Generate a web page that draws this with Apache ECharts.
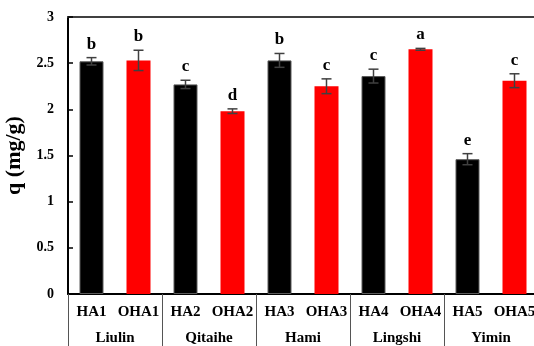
<!DOCTYPE html>
<html>
<head>
<meta charset="utf-8">
<script src="https://cdn.jsdelivr.net/npm/echarts@6/dist/echarts.min.js"></script>
<style>
  html, body { margin: 0; padding: 0; background: #fff; }
  #chart { width: 534px; height: 346px; }
</style>
</head>
<body>
<div id="chart"></div>
<script>
// Adsorption capacity of raw (HA) and oxidised (OHA) humic acids by coal origin
const samples = ['HA1', 'OHA1', 'HA2', 'OHA2', 'HA3', 'OHA3', 'HA4', 'OHA4', 'HA5', 'OHA5'];
const regions = ['Liulin', 'Qitaihe', 'Hami', 'Lingshi', 'Yimin'];
const capacity = [2.52, 2.53, 2.27, 1.98, 2.53, 2.25, 2.36, 2.65, 1.46, 2.31];
const errors = [0.04, 0.11, 0.045, 0.025, 0.075, 0.08, 0.075, 0.01, 0.06, 0.075];
const letters = ['b', 'b', 'c', 'd', 'b', 'c', 'c', 'a', 'e', 'c'];
const yTicks = { min: 0, max: 3, step: 0.5 };

const FONT = '"Liberation Serif", "Times New Roman", serif';
const chart = echarts.init(document.getElementById('chart'));

const barData = capacity.map((v, i) => ({
  value: v,
  itemStyle: i % 2 === 0
    ? { color: '#000000', borderColor: '#5a5a5a', borderWidth: 1 }
    : { color: '#ff0000' }
}));

const errData = capacity.map((v, i) => [i, v, errors[i]]);

chart.setOption({
  animation: false,
  grid: { left: 68, top: 17, width: 470, height: 277, outerBoundsMode: 'none' },
  xAxis: [
    {
      type: 'category',
      data: samples,
      position: 'bottom',
      axisLine: { lineStyle: { color: '#000', width: 2 } },
      axisTick: { show: false },
      axisLabel: { interval: 0, margin: 11, color: '#000', fontFamily: FONT, fontWeight: 'bold', fontSize: 15 }
    },
    {
      type: 'category',
      data: regions,
      position: 'bottom',
      axisLine: { show: false },
      axisTick: { show: true, interval: 0, length: 56, lineStyle: { color: '#555', width: 1 } },
      axisLabel: { interval: 0, margin: 37, color: '#000', fontFamily: FONT, fontWeight: 'bold', fontSize: 15 }
    },
    {
      type: 'category',
      data: samples,
      position: 'top',
      axisLine: { lineStyle: { color: '#404040', width: 2 } },
      axisTick: { show: false },
      axisLabel: { show: false }
    }
  ],
  yAxis: {
    type: 'value',
    min: yTicks.min,
    max: yTicks.max,
    interval: yTicks.step,
    name: 'q (mg/g)',
    nameLocation: 'middle',
    nameGap: 37,
    nameTextStyle: { color: '#000', fontFamily: FONT, fontWeight: 'bold', fontSize: 22 },
    axisLine: { show: true, lineStyle: { color: '#000', width: 2 } },
    axisTick: { show: true, inside: true, length: 5, lineStyle: { color: '#000', width: 1.5 } },
    axisLabel: { margin: 14, color: '#000', fontFamily: FONT, fontWeight: 'bold', fontSize: 14 },
    splitLine: { show: false }
  },
  series: [
    {
      type: 'bar',
      xAxisIndex: 0,
      data: barData,
      barWidth: 24
    },
    {
      type: 'custom',
      xAxisIndex: 0,
      data: errData,
      z: 10,
      renderItem: function (params, api) {
        const x = api.value(0), v = api.value(1), e = api.value(2);
        const top = api.coord([x, v + e]);
        const bot = api.coord([x, v - e]);
        const cap = 5;
        const style = { stroke: '#404040', lineWidth: 1.5 };
        return {
          type: 'group',
          children: [
            { type: 'line', shape: { x1: top[0], y1: top[1], x2: bot[0], y2: bot[1] }, style: style },
            { type: 'line', shape: { x1: top[0] - cap, y1: top[1], x2: top[0] + cap, y2: top[1] }, style: style },
            { type: 'line', shape: { x1: bot[0] - cap, y1: bot[1], x2: bot[0] + cap, y2: bot[1] }, style: style },
            {
              type: 'text',
              x: top[0],
              y: top[1] - 5,
              style: {
                text: letters[params.dataIndex],
                fill: '#000',
                font: 'bold 17px ' + FONT,
                textAlign: 'center',
                textVerticalAlign: 'bottom'
              }
            }
          ]
        };
      }
    }
  ]
});
</script>
</body>
</html>
